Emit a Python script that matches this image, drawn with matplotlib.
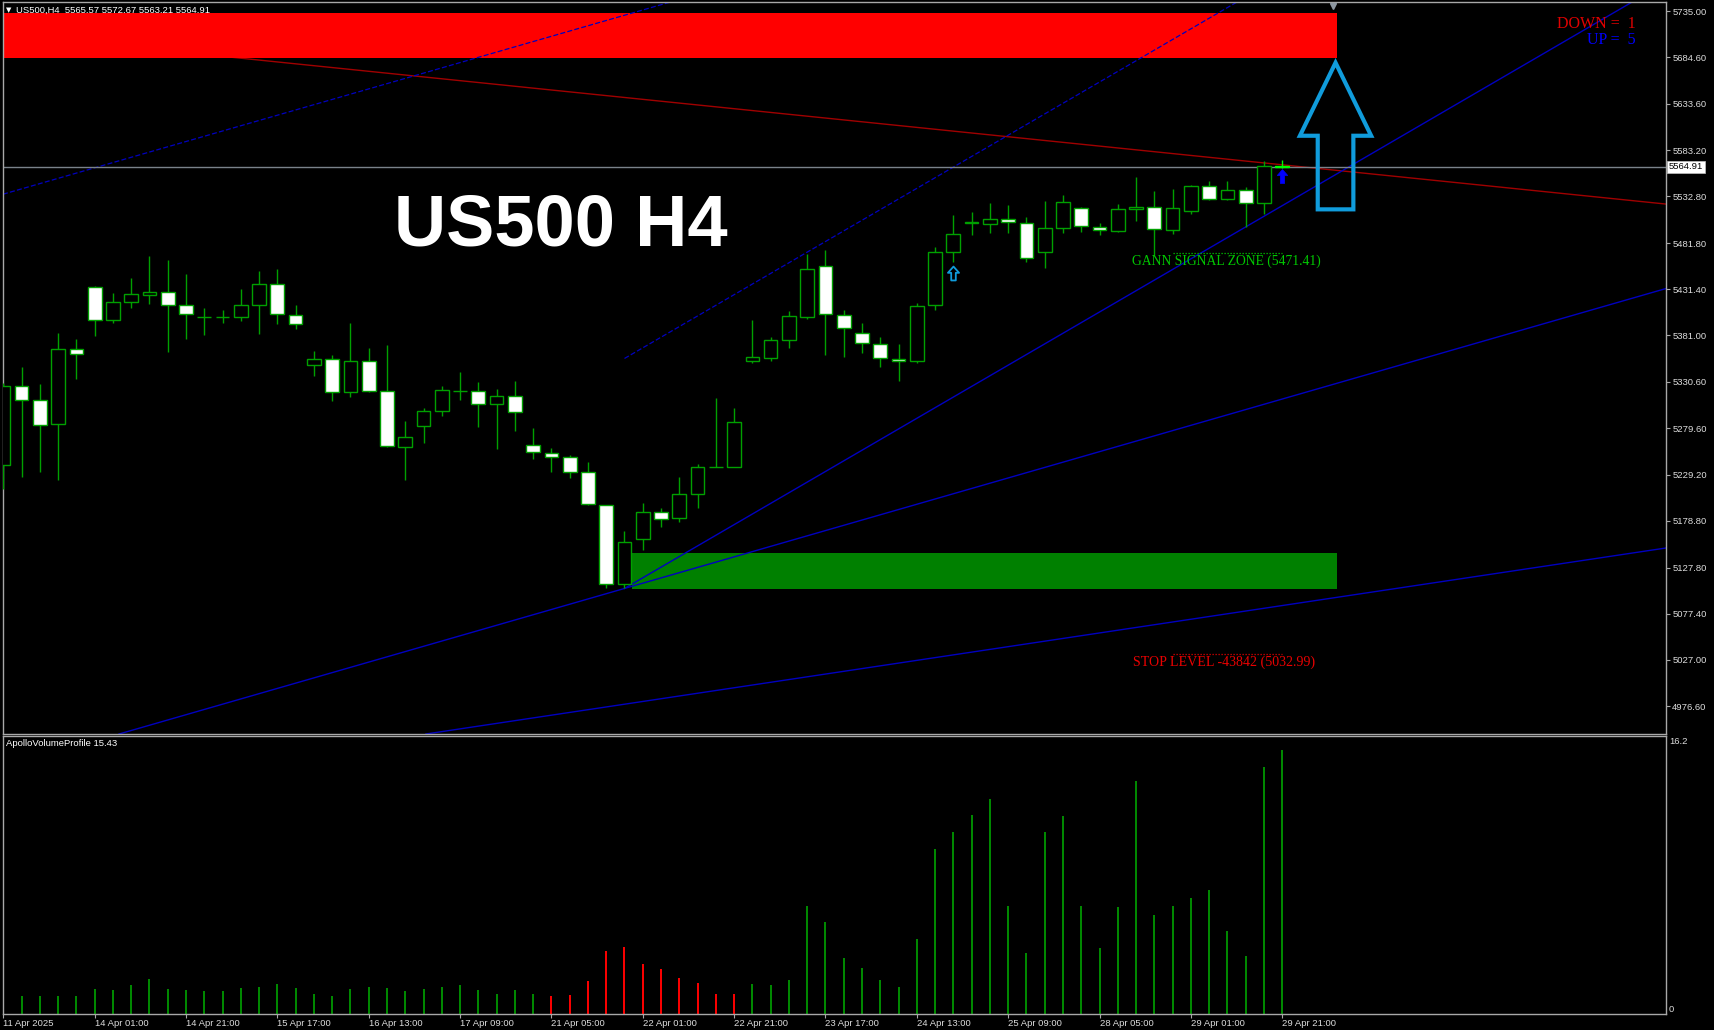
import matplotlib
matplotlib.use("Agg")
import matplotlib.pyplot as plt
import matplotlib.transforms as mtransforms
from matplotlib.patches import Rectangle, Polygon
from matplotlib.path import Path
import numpy as np

# ---------------------------------------------------------------- data
opens = [5240, 5326, 5311, 5284, 5366, 5434, 5398, 5417, 5425, 5428,
         5414, 5401.5, 5401, 5401, 5414, 5437, 5403, 5349, 5355, 5319,
         5353, 5320, 5259, 5282, 5299, 5320.5, 5320, 5306, 5315, 5262,
         5253, 5248, 5232, 5196, 5110, 5159, 5188, 5182, 5208, 5237.5,
         5238, 5353, 5356, 5376, 5401, 5457, 5403, 5384, 5372, 5355,
         5353, 5414, 5472, 5504, 5503, 5508, 5504, 5472, 5498, 5520,
         5499, 5495, 5519, 5521, 5496, 5517, 5544, 5530, 5540, 5526,
         5565.57]
highs = [5329, 5347, 5328, 5384, 5377, 5435, 5427, 5444, 5468, 5463,
         5448, 5411, 5409, 5432, 5451, 5454, 5414, 5364, 5360, 5395,
         5367, 5371, 5288, 5302, 5326, 5341, 5330, 5323, 5331, 5280,
         5258, 5251, 5243, 5196, 5168, 5198, 5193, 5227, 5241, 5313,
         5302, 5398, 5379, 5408, 5470, 5474, 5409, 5395, 5379, 5372,
         5416, 5478, 5512, 5516, 5526, 5523, 5510, 5528, 5534, 5521,
         5504, 5524, 5554, 5539, 5541, 5545, 5550, 5550, 5543, 5571,
         5572.67]
lows = [5214, 5227, 5232, 5223, 5334, 5380, 5395, 5411, 5415, 5363,
        5377, 5382, 5395, 5397, 5383, 5394, 5388, 5337, 5310, 5314,
        5319, 5259, 5223, 5264, 5293, 5311, 5281, 5257, 5277, 5246,
        5232, 5225, 5196, 5106, 5105, 5147, 5172, 5178, 5193, 5237,
        5237, 5351, 5353, 5367, 5399, 5360, 5358, 5362, 5347, 5331,
        5351, 5409, 5461, 5491, 5493, 5493, 5461, 5455, 5493, 5494,
        5491, 5494, 5506, 5469, 5492, 5513, 5529, 5529, 5499, 5513,
        5563.21]
closes = [5326, 5311, 5283, 5366, 5361, 5398, 5417, 5426, 5428, 5414,
          5404, 5401, 5401.5, 5414, 5437, 5404, 5393, 5355, 5319, 5353,
          5320, 5260, 5270, 5299, 5321, 5320.8, 5306, 5315, 5298, 5254,
          5248, 5232, 5197, 5110, 5156, 5188, 5181, 5208, 5238, 5238,
          5287, 5357, 5376, 5402, 5454, 5404, 5389, 5373, 5356, 5353,
          5413, 5472, 5492, 5504.3, 5508, 5505, 5466, 5498, 5527, 5500,
          5496, 5519, 5521.5, 5497, 5520, 5544, 5530, 5540, 5525, 5566,
          5564.91]
volumes = [1.17, 1.05, 1.05, 1.05, 1.05, 1.43, 1.39, 1.68, 2.05, 1.43,
           1.39, 1.35, 1.33, 1.50, 1.58, 1.73, 1.50, 1.15, 1.05, 1.43,
           1.56, 1.50, 1.31, 1.45, 1.56, 1.68, 1.39, 1.15, 1.39, 1.15,
           1.05, 1.11, 1.91, 3.66, 3.90, 2.92, 2.59, 2.09, 1.81, 1.15,
           1.15, 1.73, 1.66, 1.95, 6.28, 5.34, 3.26, 2.67, 1.95, 1.56,
           4.38, 9.63, 10.60, 11.60, 12.57, 6.28, 3.53, 10.60, 11.54, 6.28,
           3.84, 6.24, 13.58, 5.79, 6.28, 6.75, 7.25, 4.85, 3.36, 14.42,
           15.43]
volume_dirs = "r" + "g" * 29 + "r" * 11 + "g" * 30

time_label_bars = [0, 5, 10, 15, 20, 25, 30, 35, 40, 45, 50, 55, 60, 65, 70]
time_labels = ["11 Apr 2025", "14 Apr 01:00", "14 Apr 21:00", "15 Apr 17:00",
               "16 Apr 13:00", "17 Apr 09:00", "21 Apr 05:00", "22 Apr 01:00",
               "22 Apr 21:00", "23 Apr 17:00", "24 Apr 13:00", "25 Apr 09:00",
               "28 Apr 05:00", "29 Apr 01:00", "29 Apr 21:00"]
price_ticks = [5735.00, 5684.60, 5633.60, 5583.20, 5532.80, 5481.80, 5431.40,
               5381.00, 5330.60, 5279.60, 5229.20, 5178.80, 5127.80, 5077.40,
               5027.00, 4976.60]

header_text = "US500,H4  5565.57 5572.67 5563.21 5564.91"
title_text = "US500 H4"
last_price = 5564.91
volume_name = "ApolloVolumeProfile 15.43"
volume_max_label = "16.2"

# zones (bar range, price range)
supply_zone = (73.0, 5683.7, 5732.8)          # right bar, bottom, top (starts at left edge)
demand_zone = (34.4, 73.0, 5104.4, 5143.7)    # left bar, right bar, bottom, top

# trend / gann lines: (bar, price, slope in points per bar)
fan_origin = (34, 5105.0)
gann_steep_slope = 11.6
gann_mid_slope = 5.74
upper_dash_anchor = (0, 5535.2)
steep_dash_anchor = (34, 5355.9)
low_line_anchor = (34, 4978.7)
low_line_slope = 2.99
red_line_anchor = (12.9, 5683.7)
red_line_slope = -2.04

gann_zone_price = 5471.41
stop_level_price = 5032.99
gann_text = "GANN SIGNAL ZONE (5471.41)"
stop_text = "STOP LEVEL -43842 (5032.99)"
level_bars = (64, 70)
down_count, up_count = 1, 5

signal_small_arrow = (52, 5449.0)
signal_last_arrow = (70, 5555.0)
big_arrow = dict(bar=72.92, tip=5678.6, head_base=5598.9, tail=5518.6,
                 head_half=1.95, shaft_half=0.975)

# ---------------------------------------------------------------- style
W, H, DPI = 1714, 1030, 100
GREEN = "#00A000"
LIME = "#00FF00"
BLUE_LINE = "#0000C0"
AXIS_COL = "#a8a8a8"
TXT_COL = "#dcdcdc"
ARROW_BLUE = "#109CDC"
SANS = ["Liberation Sans", "DejaVu Sans"]
SERIF = ["Liberation Serif", "DejaVu Serif"]

fig = plt.figure(figsize=(W / DPI, H / DPI), dpi=DPI, facecolor="black")


def rect(l, t, r, b):
    return [l / W, 1 - b / H, (r - l) / W, (b - t) / H]


def price_at(ypx):
    return 5735.0 - (ypx - 11.0) * 1.091


def bar_at(xpx):
    return (xpx - 3.3) / 18.27


ax = fig.add_axes(rect(3, 2, 1666, 734))
axv = fig.add_axes(rect(3, 735.5, 1666, 1013.7), sharex=ax)
for a in (ax, axv):
    a.set_facecolor("black")
    for s in a.spines.values():
        s.set_color(AXIS_COL)
        s.set_linewidth(1.0)

ax.set_xlim(bar_at(3), bar_at(1666))
ax.set_ylim(price_at(734), price_at(2))

# ---------------------------------------------------------------- zones
xl, xr = ax.get_xlim()
ax.add_patch(Rectangle((xl, supply_zone[1]), supply_zone[0] - xl,
                       supply_zone[2] - supply_zone[1], facecolor="#FF0000",
                       edgecolor="none", zorder=1))
ax.add_patch(Rectangle((demand_zone[0], demand_zone[2]), demand_zone[1] - demand_zone[0],
                       demand_zone[3] - demand_zone[2], facecolor="#008000",
                       edgecolor="none", zorder=1))

# ---------------------------------------------------------------- lines
far = 300
ax.axline(red_line_anchor, slope=red_line_slope, color="#A00000", lw=1.0, zorder=0.9)
ax.axline(fan_origin, slope=gann_mid_slope, color=BLUE_LINE, lw=1.0, zorder=2)
ax.axline(low_line_anchor, slope=low_line_slope, color=BLUE_LINE, lw=1.0, zorder=2)
ax.axline(upper_dash_anchor, slope=gann_mid_slope, color=BLUE_LINE, lw=0.9,
          ls=(0, (4.0, 1.8)), zorder=2)
ax.plot([fan_origin[0], fan_origin[0] + far],
        [fan_origin[1], fan_origin[1] + far * gann_steep_slope],
        color=BLUE_LINE, lw=1.0, zorder=2)
ax.plot([steep_dash_anchor[0], steep_dash_anchor[0] + far],
        [steep_dash_anchor[1], steep_dash_anchor[1] + far * gann_steep_slope],
        color=BLUE_LINE, lw=0.9, ls=(0, (4.0, 1.8)), zorder=2)
ax.axhline(last_price, color="#7a828a", lw=1.0, zorder=2)

# ---------------------------------------------------------------- candles
o = np.array(opens, float)
h = np.array(highs, float)
lo = np.array(lows, float)
c = np.array(closes, float)
x = np.arange(len(o))
bull = c >= o
edge = [GREEN] * (len(o) - 1) + [LIME]
ax.vlines(x, lo, h, colors=edge, lw=1.0, zorder=3)
ax.bar(x, np.maximum(np.abs(c - o), 0.3), bottom=np.minimum(o, c), width=0.75,
       color=np.where(bull, "black", "white"), edgecolor=edge, linewidth=1.0, zorder=4)

# ---------------------------------------------------------------- arrows
ba = big_arrow
verts = [(ba["bar"], ba["tip"]),
         (ba["bar"] + ba["head_half"], ba["head_base"]),
         (ba["bar"] + ba["shaft_half"], ba["head_base"]),
         (ba["bar"] + ba["shaft_half"], ba["tail"]),
         (ba["bar"] - ba["shaft_half"], ba["tail"]),
         (ba["bar"] - ba["shaft_half"], ba["head_base"]),
         (ba["bar"] - ba["head_half"], ba["head_base"])]
ax.add_patch(Polygon(verts, closed=True, fill=False, edgecolor=ARROW_BLUE,
                     lw=3.0, joinstyle="miter", zorder=5))

hollow = Path([(0, 1), (0.8, 0.1), (0.33, 0.1), (0.33, -1), (-0.33, -1),
               (-0.33, 0.1), (-0.8, 0.1), (0, 1)],
              [Path.MOVETO] + [Path.LINETO] * 6 + [Path.CLOSEPOLY])
solid = Path([(0, 1), (0.75, 0.15), (0.3, 0.15), (0.3, -1), (-0.3, -1),
              (-0.3, 0.15), (-0.75, 0.15), (0, 1)],
             [Path.MOVETO] + [Path.LINETO] * 6 + [Path.CLOSEPOLY])
ax.plot(*signal_small_arrow, marker=hollow, ms=10, mfc="none", mec=ARROW_BLUE,
        mew=1.3, zorder=5)
ax.plot(*signal_last_arrow, marker=solid, ms=10, mfc="#0000FF", mec="#0000FF",
        mew=0.5, zorder=5)
ax.plot(bar_at(1333), price_at(5.5), marker="v", ms=5, color="#8c96a0",
        clip_on=False, zorder=6)

# ---------------------------------------------------------------- level labels
ax.hlines(gann_zone_price, *level_bars, colors="#00C800", lw=0.9,
          linestyles=(0, (1, 1.4)), zorder=5)
ax.hlines(stop_level_price, *level_bars, colors="#E00000", lw=0.9,
          linestyles=(0, (1, 1.4)), zorder=5)
ax.text(bar_at(1132), price_at(264.5), gann_text, color="#00C800", fontsize=9.8,
        family=SERIF, va="baseline", ha="left", zorder=6)
ax.text(bar_at(1133), price_at(665.5), stop_text, color="#E80000", fontsize=10.1,
        family=SERIF, va="baseline", ha="left", zorder=6)

fig.text(1636 / W, 1 - 28.5 / H, f"DOWN =  {down_count}", color="#E00000",
         fontsize=11.5, family=SERIF, ha="right", va="baseline")
fig.text(1636 / W, 1 - 43.5 / H, f"UP =  {up_count}", color="#0000FF",
         fontsize=11.5, family=SERIF, ha="right", va="baseline")

fig.text(394 / W, 1 - 246 / H, title_text, color="white", fontsize=52,
         weight="bold", family=SANS, va="baseline", ha="left")
fig.text(6 / W, 1 - 10 / H, "\u25BC", color="white", fontsize=5,
         family=["DejaVu Sans"], va="center", ha="left")
fig.text(16 / W, 1 - 10.5 / H, header_text, color="white", fontsize=6.8,
         family=SANS, va="center", ha="left")

# ---------------------------------------------------------------- price axis
ax.yaxis.tick_right()
ax.set_yticks(price_ticks)
ax.set_yticklabels([f"{v:.2f}" for v in price_ticks], family=SANS)
ax.tick_params(axis="y", direction="out", length=3, width=0.8, color=AXIS_COL,
               labelcolor=TXT_COL, labelsize=6.8, pad=1.5)
ax.tick_params(axis="x", length=0, labelbottom=False)

tr = mtransforms.blended_transform_factory(fig.transFigure, ax.transData)
ax.text(1669 / W, last_price, f"{last_price:.2f}", transform=tr, color="black",
        fontsize=6.8, family=SANS, va="center", ha="left", zorder=7, clip_on=False,
        bbox=dict(facecolor="white", edgecolor="#c0c0c0", pad=1.2, lw=0.5))

# ---------------------------------------------------------------- volume panel
vcols = ["#FF0000" if d == "r" else "#008C00" for d in volume_dirs]
axv.vlines(np.arange(len(volumes)), 0, volumes, colors=vcols, lw=1.4)
axv.set_ylim(0, 15.43 / 264 * (1013.7 - 735.5))
axv.set_yticks([])
axv.set_xticks(time_label_bars)
axv.set_xticklabels(time_labels, family=SANS, ha="left")
axv.tick_params(axis="x", direction="out", length=3, width=0.8, color=AXIS_COL,
                labelcolor=TXT_COL, labelsize=6.8, pad=1.0)
fig.text(5.5 / W, 1 - 743.5 / H, volume_name, color="white", fontsize=6.8,
         family=SANS, va="center", ha="left")
fig.text(1669 / W, 1 - 742 / H, volume_max_label, color=TXT_COL, fontsize=6.8,
         family=SANS, va="center", ha="left")
fig.text(1669 / W, 1 - 1009 / H, "0", color=TXT_COL, fontsize=6.8,
         family=SANS, va="center", ha="left")

fig.savefig("out.png", dpi=DPI, facecolor="black")
